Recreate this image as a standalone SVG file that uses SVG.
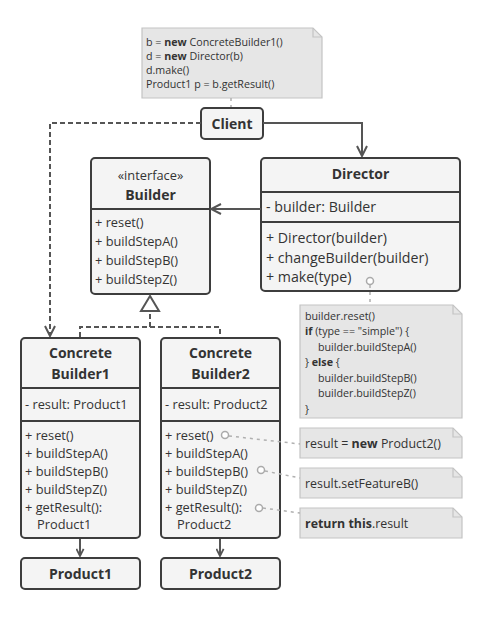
<svg xmlns="http://www.w3.org/2000/svg" width="477" height="631" viewBox="0 0 477 631">
<style>
text{font-family:"Open Sans","Noto Sans","Liberation Sans",sans-serif;fill:#333}
.box{fill:#f4f4f4;stroke:#3d3d3d;stroke-width:2}
.sep{stroke:#3d3d3d;stroke-width:2}
.t{font-size:14px;font-weight:bold;text-anchor:middle}
.m{font-size:12.8px}
.dm{font-size:14.2px}
.note{fill:#e6e6e6;stroke:#c4c4c4;stroke-width:1.2}
.nt{font-size:10.7px}
.nt2{font-size:12.4px}
.line{fill:none;stroke:#555;stroke-width:2}
.dash{fill:none;stroke:#555;stroke-width:2;stroke-dasharray:5,3}
.dot{fill:none;stroke:#b0b0b0;stroke-width:1.5;stroke-dasharray:3,4}
.circ{fill:#fff;stroke:#aaa;stroke-width:1.5}
</style>
<defs>
<marker id="open" viewBox="0 0 12 12" refX="11" refY="6" markerWidth="12" markerHeight="12" markerUnits="userSpaceOnUse" orient="auto">
<path d="M1,1 L11,6 L1,11" fill="none" stroke="#555" stroke-width="2"/>
</marker>
<marker id="small" viewBox="0 0 10 10" refX="9" refY="5" markerWidth="9" markerHeight="9" markerUnits="userSpaceOnUse" orient="auto">
<path d="M1,1 L9,5 L1,9" fill="none" stroke="#555" stroke-width="2"/>
</marker>
</defs>
<rect width="477" height="631" fill="#fff"/>

<g id="note-client">
<path class="note" d="M142,28 H313 L322,37 V98 H142 Z"/>
<path d="M313,28 V37 H322" fill="none" stroke="#c4c4c4" stroke-width="1.2"/>
<text class="nt" x="146" y="46">b = <tspan font-weight="bold">new</tspan> ConcreteBuilder1()</text>
<text class="nt" x="146" y="60">d = <tspan font-weight="bold">new</tspan> Director(b)</text>
<text class="nt" x="146" y="74">d.make()</text>
<text class="nt" x="146" y="88">Product1 p = b.getResult()</text>
</g>

<g id="client">
<rect class="box" x="201" y="108" width="62" height="31" rx="4"/>
<text class="t" x="232" y="128.5">Client</text>
</g>

<g id="builder">
<rect class="box" x="91" y="158" width="119" height="136" rx="4"/>
<line class="sep" x1="91" y1="209" x2="210" y2="209"/>
<text class="m" x="150.5" y="180" text-anchor="middle" font-size="13px">«interface»</text>
<text class="t" x="150.5" y="200">Builder</text>
<text class="m" x="95" y="227">+ reset()</text>
<text class="m" x="95" y="246">+ buildStepA()</text>
<text class="m" x="95" y="265">+ buildStepB()</text>
<text class="m" x="95" y="284">+ buildStepZ()</text>
</g>

<g id="director">
<rect class="box" x="261" y="158" width="199" height="133" rx="4"/>
<line class="sep" x1="261" y1="192" x2="460" y2="192"/>
<line class="sep" x1="261" y1="222" x2="460" y2="222"/>
<text class="t" x="360.5" y="179">Director</text>
<text class="dm" x="266" y="212">- builder: Builder</text>
<text class="dm" x="266" y="243">+ Director(builder)</text>
<text class="dm" x="266" y="263">+ changeBuilder(builder)</text>
<text class="dm" x="266" y="282">+ make(type)</text>
</g>

<g id="note-make">
<path class="note" d="M300,305 H453 L462,314 V418 H300 Z"/>
<path d="M453,305 V314 H462" fill="none" stroke="#c4c4c4" stroke-width="1.2"/>
<text class="nt" x="305" y="320">builder.reset()</text>
<text class="nt" x="305" y="335"><tspan font-weight="bold">if</tspan> (type == "simple") {</text>
<text class="nt" x="318" y="351">builder.buildStepA()</text>
<text class="nt" x="305" y="366">} <tspan font-weight="bold">else</tspan> {</text>
<text class="nt" x="318" y="382">builder.buildStepB()</text>
<text class="nt" x="318" y="397">builder.buildStepZ()</text>
<text class="nt" x="305" y="413">}</text>
</g>

<g id="concrete-builder1">
<rect class="box" x="21" y="338" width="119" height="200" rx="4"/>
<line class="sep" x1="21" y1="388" x2="140" y2="388"/>
<line class="sep" x1="21" y1="421" x2="140" y2="421"/>
<text class="t" x="80.5" y="358">Concrete</text>
<text class="t" x="80.5" y="379">Builder1</text>
<text class="m" x="25" y="409">- result: Product1</text>
<text class="m" x="25" y="440">+ reset()</text>
<text class="m" x="25" y="458">+ buildStepA()</text>
<text class="m" x="25" y="476">+ buildStepB()</text>
<text class="m" x="25" y="494">+ buildStepZ()</text>
<text class="m" x="25" y="512">+ getResult():</text>
<text class="m" x="37" y="529">Product1</text>
</g>

<g id="concrete-builder2">
<rect class="box" x="161" y="338" width="119" height="200" rx="4"/>
<line class="sep" x1="161" y1="388" x2="280" y2="388"/>
<line class="sep" x1="161" y1="421" x2="280" y2="421"/>
<text class="t" x="220.5" y="358">Concrete</text>
<text class="t" x="220.5" y="379">Builder2</text>
<text class="m" x="165" y="409">- result: Product2</text>
<text class="m" x="165" y="440">+ reset()</text>
<text class="m" x="165" y="458">+ buildStepA()</text>
<text class="m" x="165" y="476">+ buildStepB()</text>
<text class="m" x="165" y="494">+ buildStepZ()</text>
<text class="m" x="165" y="512">+ getResult():</text>
<text class="m" x="177" y="529">Product2</text>
</g>

<g id="product1">
<rect class="box" x="21" y="558" width="119" height="31" rx="4"/>
<text class="t" x="80.5" y="579">Product1</text>
</g>

<g id="product2">
<rect class="box" x="161" y="558" width="119" height="31" rx="4"/>
<text class="t" x="220.5" y="579">Product2</text>
</g>

<g id="note-reset">
<path class="note" d="M300,428 H453 L462,437 V458 H300 Z"/>
<path d="M453,428 V437 H462" fill="none" stroke="#c4c4c4" stroke-width="1.2"/>
<text class="nt2" x="305" y="447.5">result = <tspan font-weight="bold">new</tspan> Product2()</text>
</g>

<g id="note-feature">
<path class="note" d="M300,468 H453 L462,477 V498 H300 Z"/>
<path d="M453,468 V477 H462" fill="none" stroke="#c4c4c4" stroke-width="1.2"/>
<text class="nt2" x="305" y="487.5">result.setFeatureB()</text>
</g>

<g id="note-return">
<path class="note" d="M300,508 H453 L462,517 V538 H300 Z"/>
<path d="M453,508 V517 H462" fill="none" stroke="#c4c4c4" stroke-width="1.2"/>
<text class="nt2" x="305" y="527.5"><tspan font-weight="bold">return this</tspan>.result</text>
</g>

<g id="connectors">
<path class="dash" d="M201,123 H50 V336" marker-end="url(#open)"/>
<path class="line" d="M263,123 H362 V156" marker-end="url(#open)"/>
<path class="line" d="M261,209 H211" marker-end="url(#open)"/>
<path class="dash" d="M80,337 V327 H220 V337"/>
<path class="dash" d="M150,327 V311"/>
<path d="M150,296 L141,311 L159,311 Z" fill="#fff" stroke="#555" stroke-width="2"/>
<path class="line" d="M80,539 V556" marker-end="url(#small)"/>
<path class="line" d="M220,539 V556" marker-end="url(#small)"/>
<path class="dot" d="M231,98 V107"/>
<path class="dot" d="M370,285 V304"/>
<path class="dot" d="M229,436 L300,444"/>
<path class="dot" d="M265,471 L300,478"/>
<path class="dot" d="M263,508 L300,513"/>
<circle class="circ" cx="370" cy="281" r="3.5"/>
<circle class="circ" cx="225" cy="435" r="3.5"/>
<circle class="circ" cx="261" cy="470" r="3.5"/>
<circle class="circ" cx="259" cy="508" r="3.5"/>
</g>
</svg>
